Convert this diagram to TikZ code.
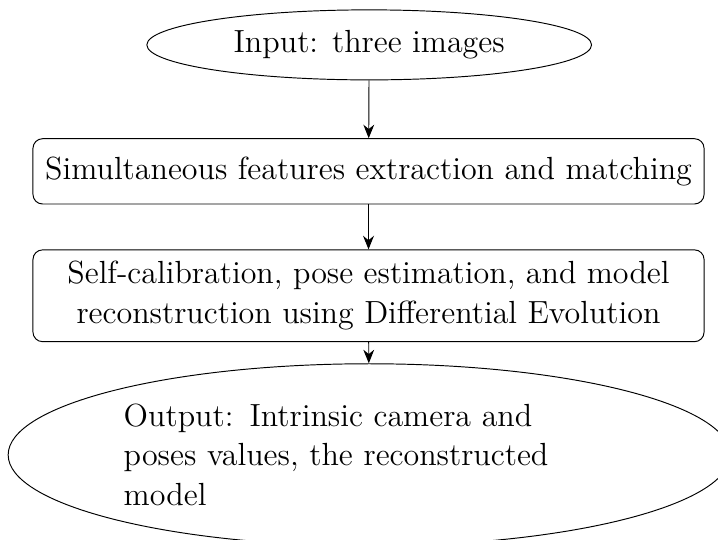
\documentclass[tikz,border=0pt]{standalone}
\usepackage{fontspec}
\usepackage{tikz}
\usetikzlibrary{positioning,arrows.meta,shapes.geometric}

\begin{document}
\begin{tikzpicture}[
  every node/.style={font=\fontsize{13.4}{16.7}\selectfont, align=center},
  term/.style={ellipse, draw=black, line width=0.4pt, inner sep=1pt},
  box/.style={rectangle, draw=black, line width=0.4pt,
              rounded corners=4pt, inner sep=2pt,
              minimum width=9.87cm},
  arr/.style={-{Stealth[length=2mm, width=1.6mm]}, line width=0.4pt}
]
% page frame, the output ellipse runs over it
\useasboundingbox (0,0) rectangle (10.56,-7.93);
% input on top
\node[term, minimum width=6.54cm, minimum height=1.03cm] (input) at (5.43,-0.66) {Input: three images};
% two processing steps
\node[box, minimum height=0.96cm] (match) at (5.42,-2.52) {Simultaneous features extraction and matching};
\node[box, minimum height=1.35cm] (calib) at (5.42,-4.35)
  {Self-calibration, pose estimation, and model\\reconstruction using Differential Evolution};
% output at the bottom
\node[term, minimum width=10.62cm, minimum height=2.68cm, text width=7.22cm, align=left]
  (output) at (5.43,-6.69) {Output: Intrinsic camera and poses values, the reconstructed model};
% arrows down the column
\draw[arr] (input)  -- (match);
\draw[arr] (match)  -- (calib);
\draw[arr] (calib)  -- (output);
\end{tikzpicture}
\end{document}
